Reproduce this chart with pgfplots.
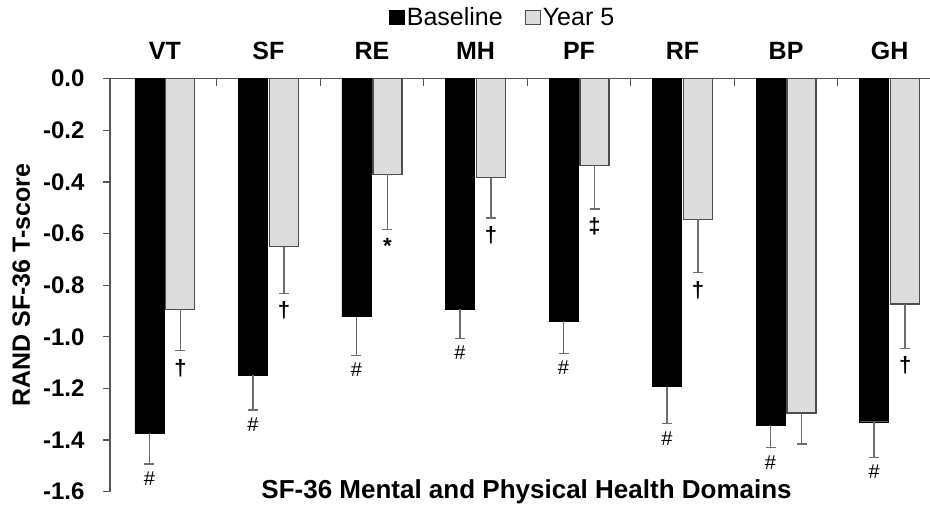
\documentclass[border=0pt]{standalone}
\usepackage{pgfplots}
\pgfplotsset{compat=1.18}
\usepackage{pgfplotstable}
\usepackage{fontspec}
\setmainfont{Liberation Sans}
\definecolor{bargray}{HTML}{DCDCDC}
\definecolor{edgegray}{HTML}{4D4D4D}
\definecolor{errgray}{HTML}{6E6E6E}
\definecolor{axisgray}{HTML}{555555}

\pgfplotstableread{
x b be g ge
0 -1.372 0.121 -0.893 0.161
1 -1.148 0.136 -0.651 0.180
2 -0.922 0.150 -0.370 0.214
3 -0.893 0.114 -0.383 0.157
4 -0.939 0.126 -0.337 0.168
5 -1.193 0.144 -0.545 0.207
6 -1.342 0.088 -1.295 0.120
7 -1.329 0.138 -0.873 0.172
}\datatable

\begin{document}
\begin{tikzpicture}
\begin{axis}[
  scale only axis, width=820pt, height=413pt,
  xmin=-0.53, xmax=7.39, ymin=-1.6, ymax=0,
  axis x line*=top, axis y line*=left,
  axis line style={axisgray, line width=1.2pt},
  every tick/.style={axisgray, line width=1.2pt},
  clip=false,
  ybar=2pt, bar width=29pt,
  xtick={0,1,2,3,4,5,6,7},
  xticklabels={VT,SF,RE,MH,PF,RF,BP,GH},
  minor x tick num=1,
  major x tick style={draw=none},
  xtick align=inside, ytick align=outside,
  major tick length=7pt, minor tick length=7pt,
  xticklabel style={font=\fontsize{25}{29}\selectfont\bfseries, yshift=16pt,
    text height=18pt, text depth=0pt},
  ytick={-1.6,-1.4,-1.2,-1,-0.8,-0.6,-0.4,-0.2,0},
  /pgf/number format/assume math mode=true,
  yticklabel style={font=\fontsize{24}{28}\selectfont\bfseries, xshift=-15pt,
    /pgf/number format/fixed, /pgf/number format/fixed zerofill,
    /pgf/number format/precision=1},
  ylabel={RAND SF-36 T-score},
  ylabel style={font=\fontsize{25}{30}\selectfont\bfseries, yshift=6pt},
  legend style={at={(rel axis cs:0.4787,1)}, anchor=south, yshift=47pt,
    draw=none, fill=none, font=\fontsize{25}{29}\selectfont,
    legend columns=2, /tikz/every even column/.append style={column sep=20pt}},
  legend image code/.code={\draw[#1, line width=1pt] (0pt,-7pt) rectangle (15pt,7pt);},
]
\addplot[fill=black, draw=black,
  error bars/.cd, y dir=minus, y explicit,
  error bar style={errgray, line width=1.3pt},
  error mark options={errgray, line width=1.3pt, mark size=5pt, rotate=90}]
  table[x=x, y=b, y error=be] {\datatable};
\addplot[fill=bargray, draw=edgegray, line width=1.2pt,
  error bars/.cd, y dir=minus, y explicit,
  error bar style={errgray, line width=1.3pt},
  error mark options={errgray, line width=1.3pt, mark size=5pt, rotate=90}]
  table[x=x, y=g, y error=ge] {\datatable};
\legend{Baseline, Year 5}

\tikzset{hash/.style={anchor=north, yshift=-4pt, font=\fontsize{20}{22}\selectfont},
         dag/.style={anchor=north, yshift=-5pt, font=\fontsize{22}{24}\selectfont\bfseries}}
% Baseline markers (#)
\node[hash] at (axis cs:-0.15,-1.493) {\#};
\node[hash] at (axis cs:0.85,-1.284) {\#};
\node[hash] at (axis cs:1.85,-1.072) {\#};
\node[hash] at (axis cs:2.85,-1.007) {\#};
\node[hash] at (axis cs:3.85,-1.065) {\#};
\node[hash] at (axis cs:4.85,-1.337) {\#};
\node[hash] at (axis cs:5.85,-1.430) {\#};
\node[hash] at (axis cs:6.85,-1.467) {\#};
% Year 5 markers
\node[dag] at (axis cs:0.15,-1.054) {†};
\node[dag] at (axis cs:1.15,-0.831) {†};
\node[dag] at (axis cs:2.15,-0.584) {*};
\node[dag] at (axis cs:3.15,-0.540) {†};
\node[dag] at (axis cs:4.15,-0.505) {‡};
\node[dag] at (axis cs:5.15,-0.752) {†};
\node[dag] at (axis cs:7.15,-1.045) {†};

\node[font=\fontsize{26}{30}\selectfont\bfseries] at (rel axis cs:0.508,0) {SF-36 Mental and Physical Health Domains};
\coordinate (ll) at (rel axis cs:0,0);
\coordinate (ur) at (rel axis cs:1,1);
\end{axis}
\pgfresetboundingbox
\path[use as bounding box] ([shift={(-110pt,-17pt)}]ll) rectangle ([shift={(0pt,78.7pt)}]ur);
\end{tikzpicture}
\end{document}
